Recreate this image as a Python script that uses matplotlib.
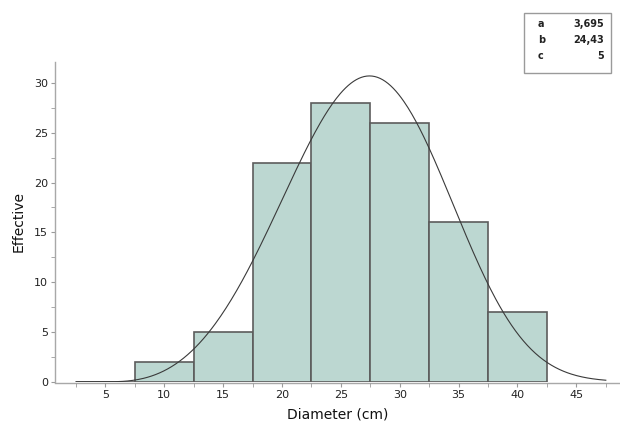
import numpy as np
import matplotlib
matplotlib.use('Agg')
import matplotlib.pyplot as plt
from matplotlib.patches import Rectangle

# histogram data (bin edges and counts)
bin_edges = [2.5, 7.5, 12.5, 17.5, 22.5, 27.5, 32.5, 37.5, 42.5]
counts = [0, 2, 5, 22, 28, 26, 16, 7]

# fitted 3-parameter weibull, parameters as shown in the box
shape_a = 3.695
scale_b = 24.43
thresh_c = 5.0
param_names = ['a', 'b', 'c']
param_text = ['3,695', '24,43', '5']

xticks = [5, 10, 15, 20, 25, 30, 35, 40, 45]
yticks = [0, 5, 10, 15, 20, 25, 30]

plt.rcParams['font.family'] = ['DejaVu Sans']

fig = plt.figure(figsize=(6.2, 4.28), dpi=100)
ax = fig.add_axes([0.0887, 0.108, 0.911, 0.747])

widths = np.diff(bin_edges)
ax.bar(bin_edges[:-1], counts, width=widths, align='edge',
       color='#bcd7d1', edgecolor='#5c5c5c', linewidth=1.2, zorder=3)

# fitted curve scaled to counts
n_tot = sum(counts)
bw = widths[0]
xs = np.linspace(bin_edges[0], 47.5, 400)
z = np.clip((xs - thresh_c) / scale_b, 0, None)
pdf = (shape_a / scale_b) * z ** (shape_a - 1) * np.exp(-z ** shape_a)
ax.plot(xs, pdf * n_tot * bw, color='#3a3a3a', linewidth=0.8, zorder=4)

ax.set_xlim(0.72, 48.69)
ax.set_ylim(0, 32.1)

for s in ['top', 'right']:
    ax.spines[s].set_visible(False)
ax.spines['left'].set_color('#a8a8a8')
ax.spines['bottom'].set_color('#a8a8a8')
ax.spines['left'].set_linewidth(1.0)
ax.spines['bottom'].set_linewidth(1.0)
ax.spines['bottom'].set_position(('outward', 1))
ax.spines['bottom'].set_zorder(1)

ax.set_xticks(xticks)
ax.set_xticks(np.arange(2.5, 48, 5), minor=True)
ax.set_yticks(yticks)
ax.set_yticks(np.arange(2.5, 32, 5), minor=True)
ax.tick_params(axis='both', which='both', color='#9a9a9a', direction='out')
ax.tick_params(axis='both', which='major', length=3, labelsize=8, labelcolor='#222222', pad=2)
ax.tick_params(axis='both', which='minor', length=3)

ax.set_xlabel('Diameter (cm)', fontsize=10, color='#111111', labelpad=5)
ax.set_ylabel('Effective', fontsize=10, color='#111111', labelpad=6)

# parameter box
fig.patches.append(Rectangle((524 / 620, 1 - 73 / 428), 87 / 620, 60 / 428,
                             transform=fig.transFigure, fill=False,
                             edgecolor='#9a9a9a', linewidth=1.0))
for i in range(len(param_names)):
    yy = 1 - (24 + i * 16) / 428
    fig.text(538 / 620, yy, param_names[i], fontsize=7, fontweight='bold',
             color='#222222', va='center', ha='left')
    fig.text(604 / 620, yy, param_text[i], fontsize=7, fontweight='bold',
             color='#222222', va='center', ha='right')

fig.savefig('out.png', dpi=100)
